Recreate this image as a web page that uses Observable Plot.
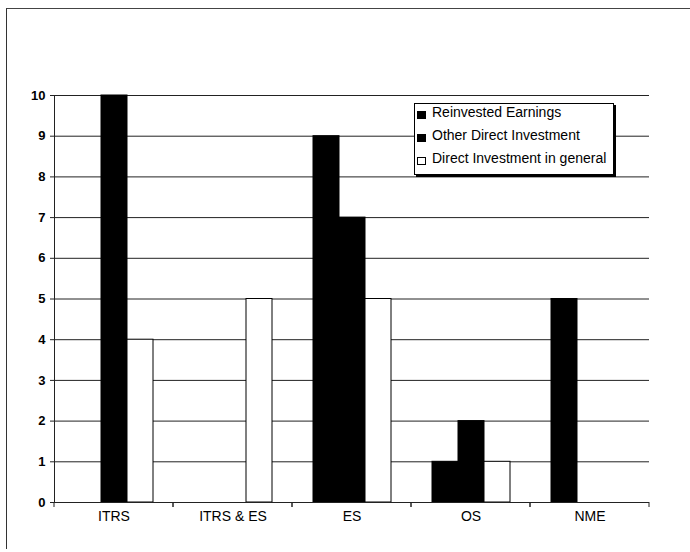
<!DOCTYPE html>
<html>
<head>
<meta charset="utf-8">
<script src="https://cdn.jsdelivr.net/npm/d3@7"></script>
<script src="https://cdn.jsdelivr.net/npm/@observablehq/plot@0.6"></script>
<style>
  html, body { margin: 0; padding: 0; background: #fff; }
  #wrap { position: relative; width: 690px; height: 552px; overflow: hidden; font-family: "Liberation Sans", Arial, sans-serif; }
  #wrap svg { display: block; }
  #frame { position: absolute; left: 6px; top: 8px; width: 720px; height: 540px; border-left: 1.5px solid #333; border-top: 1.5px solid #444; pointer-events: none; }
  #legend { position: absolute; left: 414px; top: 103px; width: 198px; height: 70px; border: 1px solid #000; box-shadow: 2px 2px 0 #000; background: #fff; font-size: 14px; color: #000; }
  .row { height: 23px; line-height: 23px; position: relative; top: -3px; white-space: nowrap; }
  .sw { display: inline-block; width: 9px; height: 8px; border: 1px solid #000; box-sizing: border-box; margin: 0 6px 0 2px; vertical-align: -2px; }
</style>
</head>
<body>
<div id="wrap"></div>
<script>
const categories = ["ITRS", "ITRS & ES", "ES", "OS", "NME"];
const seriesNames = ["Reinvested Earnings", "Other Direct Investment", "Direct Investment in general"];
const reinvestedEarnings = [0, 0, 9, 1, 5];
const otherDirectInvestment = [10, 0, 7, 2, 0];
const directInvestmentGeneral = [4, 5, 5, 1, 0];
const seriesFills = ["#000", "#000", "#fff"];
const yTicks = [0, 1, 2, 3, 4, 5, 6, 7, 8, 9, 10];

const seriesValues = [reinvestedEarnings, otherDirectInvestment, directInvestmentGeneral];
const table = [];
seriesValues.forEach((vals, j) => vals.forEach((v, i) => {
  table.push({category: categories[i], series: seriesNames[j], value: v});
}));

// tick marks at the group boundaries on the category axis
function boundaryTicks(index, scales, values, dimensions) {
  const r = scales.x && scales.x.range ? scales.x.range() : [dimensions.marginLeft, dimensions.width - dimensions.marginRight];
  const y0 = scales.y(0);
  const g = d3.create("svg:g");
  for (const x of [r[0], r[1]]) {
    g.append("line").attr("x1", x).attr("x2", x).attr("y1", y0).attr("y2", y0 + 5)
      .attr("stroke", "#222").attr("stroke-width", 1);
  }
  return g.node();
}

const chart = Plot.plot({
  width: 690,
  height: 552,
  marginTop: 95,
  marginBottom: 50,
  marginLeft: 53,
  marginRight: 41,
  style: {fontFamily: "'Liberation Sans', Arial, sans-serif", background: "transparent", color: "#000"},
  fx: {domain: categories, padding: 0},
  x: {domain: seriesNames, paddingInner: 0, paddingOuter: 0.745, axis: null},
  y: {domain: [0, 10]},
  color: {domain: seriesNames, range: seriesFills},
  marks: [
    Plot.gridY(yTicks, {stroke: "#222", strokeOpacity: 1, strokeWidth: 1}),
    Plot.barY(table.filter(d => d.value > 0), {fx: "category", x: "series", y: "value", fill: "series", stroke: "#000", strokeWidth: 1}),
    Plot.ruleY([0], {stroke: "#222"}),
    Plot.frame({anchor: "left", facetAnchor: "left", stroke: "#222"}),
    boundaryTicks,
    Plot.axisY(yTicks, {tickSize: 4, tickPadding: 5, fontSize: 13, fontWeight: "bold", label: null, stroke: "#222"}),
    Plot.axisFx({anchor: "bottom", tickSize: 0, tickPadding: 9, fontSize: 14, label: null})
  ]
});

const wrap = document.getElementById("wrap");
wrap.appendChild(chart);

const frame = document.createElement("div");
frame.id = "frame";
wrap.appendChild(frame);

const legend = document.createElement("div");
legend.id = "legend";
seriesNames.forEach((name, j) => {
  const row = document.createElement("div");
  row.className = "row";
  const sw = document.createElement("span");
  sw.className = "sw";
  sw.style.background = seriesFills[j];
  row.appendChild(sw);
  row.appendChild(document.createTextNode(name));
  legend.appendChild(row);
});
wrap.appendChild(legend);
</script>
</body>
</html>
